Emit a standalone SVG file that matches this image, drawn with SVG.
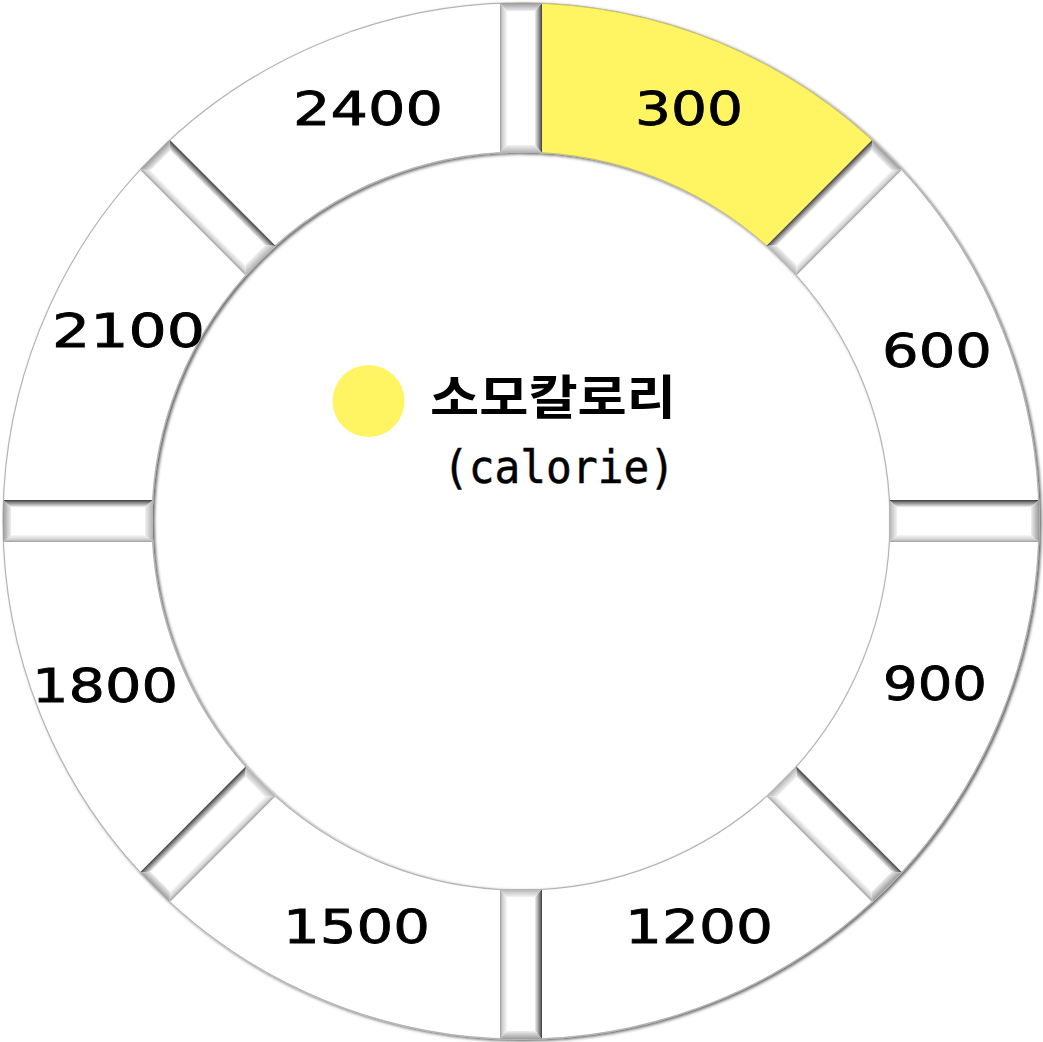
<svg xmlns="http://www.w3.org/2000/svg" xmlns:xlink="http://www.w3.org/1999/xlink" width="1043" height="1042" viewBox="0 0 1043 1042">
<style>
.num{font-family:"DejaVu Sans","Liberation Sans",sans-serif;font-size:47px;fill:#000;stroke:#000;stroke-width:0.8px;}
.kr{font-family:"Noto Sans CJK KR","Noto Sans",sans-serif;font-size:47px;font-weight:700;fill:#000;}
.en{font-family:"DejaVu Sans Mono","Liberation Mono",monospace;font-size:46px;fill:#000;stroke:#000;stroke-width:0.5px;}
.seg{fill:#fff;stroke:#b5b5b5;stroke-width:1.2;}
.hl{fill:#FFF462;stroke:#c9c06a;stroke-width:1;}
</style>
<defs>
<filter id="sh" x="-5%" y="-5%" width="110%" height="110%">
<feDropShadow dx="2" dy="1.5" stdDeviation="1.6" flood-color="#000" flood-opacity="0.6"/>
</filter>
<linearGradient id="dkT" x1="0" y1="0" x2="0" y2="1"><stop offset="0" stop-color="#3c3c3c"/><stop offset="0.3" stop-color="#7a7a7a"/><stop offset="1" stop-color="#f0f0f0"/></linearGradient>
<linearGradient id="ltB" x1="0" y1="1" x2="0" y2="0"><stop offset="0" stop-color="#a0a0a0"/><stop offset="0.4" stop-color="#d5d5d5"/><stop offset="1" stop-color="#f7f7f7"/></linearGradient>
<linearGradient id="endL" x1="0" y1="0" x2="1" y2="0"><stop offset="0" stop-color="#b0b0b0"/><stop offset="1" stop-color="#f2f2f2"/></linearGradient>
<linearGradient id="endR" x1="1" y1="0" x2="0" y2="0"><stop offset="0" stop-color="#9a9a9a"/><stop offset="1" stop-color="#eeeeee"/></linearGradient>
<g id="bar">
<rect x="368" y="-21" width="150" height="42" fill="#fff"/>
<polygon points="368,-21 518,-21 510,-14 376,-14" fill="url(#dkT)"/>
<polygon points="368,21 518,21 510,14 376,14" fill="url(#ltB)"/>
<polygon points="368,-21 376,-14 376,14 368,21" fill="url(#endL)"/>
<polygon points="518,-21 510,-14 510,14 518,21" fill="url(#endR)"/>
</g>
</defs>
<rect width="1043" height="1042" fill="#fff"/>
<g id="ring" filter="url(#sh)">
<path class="seg" fill-rule="evenodd" d="M3,521 A518,518 0 1 1 1039,521 A518,518 0 1 1 3,521 Z M152,521 A369,369 0 1 0 890,521 A369,369 0 1 0 152,521 Z"/>
<path id="seg-300" class="hl" d="M521,3 A518,518 0 0 1 887.3,154.7 L781.9,260.1 A369,369 0 0 0 521,152 Z"/>
</g>
<g id="connectors">
<use xlink:href="#bar" transform="translate(521 521) rotate(-90) scale(1 -1)"/>
<use xlink:href="#bar" transform="translate(521 521) rotate(-45)"/>
<use xlink:href="#bar" transform="translate(521 521) rotate(0)"/>
<use xlink:href="#bar" transform="translate(521 521) rotate(45)"/>
<use xlink:href="#bar" transform="translate(521 521) rotate(90)"/>
<use xlink:href="#bar" transform="translate(521 521) rotate(135) scale(1 -1)"/>
<use xlink:href="#bar" transform="translate(521 521) rotate(180) scale(1 -1)"/>
<use xlink:href="#bar" transform="translate(521 521) rotate(-135) scale(1 -1)"/>
</g>
<g id="label-300"><text class="num" x="635" y="125" textLength="108" lengthAdjust="spacingAndGlyphs">300</text></g>
<g id="label-600"><text class="num" x="882" y="367" textLength="110" lengthAdjust="spacingAndGlyphs">600</text></g>
<g id="label-900"><text class="num" x="883" y="700" textLength="104" lengthAdjust="spacingAndGlyphs">900</text></g>
<g id="label-1200"><text class="num" x="625" y="943" textLength="148" lengthAdjust="spacingAndGlyphs">1200</text></g>
<g id="label-1500"><text class="num" x="283" y="943" textLength="147" lengthAdjust="spacingAndGlyphs">1500</text></g>
<g id="label-1800"><text class="num" x="32" y="702" textLength="146" lengthAdjust="spacingAndGlyphs">1800</text></g>
<g id="label-2100"><text class="num" x="52" y="347" textLength="153" lengthAdjust="spacingAndGlyphs">2100</text></g>
<g id="label-2400"><text class="num" x="293" y="125" textLength="150" lengthAdjust="spacingAndGlyphs">2400</text></g>
<g id="legend">
<circle cx="368.5" cy="401" r="36" fill="#FFF462"/>
<text class="kr" x="430" y="414" textLength="246" lengthAdjust="spacingAndGlyphs">소모칼로리</text>
<text class="en" x="443" y="483" textLength="232" lengthAdjust="spacingAndGlyphs">(calorie)</text>
</g>
</svg>
